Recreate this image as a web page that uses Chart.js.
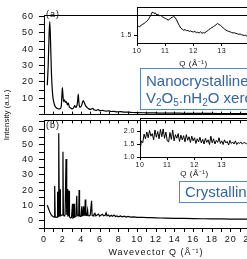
<!DOCTYPE html>
<html>
<head>
<meta charset="utf-8">
<script src="https://cdn.jsdelivr.net/npm/chart.js@4.4.1/dist/chart.umd.min.js"></script>
<style>
  html, body { margin: 0; padding: 0; background: #fff; }
  #wrap { position: relative; width: 247px; height: 259px; overflow: hidden; background: #fff; }
  canvas { position: absolute; }
  .lbl { position: absolute; font: 9px 'Liberation Sans', Arial, sans-serif; letter-spacing: 1px; color: #111; }
  #ytitle { position: absolute; left: 6px; top: 115px; transform: translate(-50%, -50%) rotate(-90deg);
            font: 8px 'Liberation Sans', Arial, sans-serif; white-space: nowrap; color: #111; }
  .box { position: absolute; border: 1px solid #5b86bf; color: #3165a8; box-sizing: border-box;
         font: 15px 'Liberation Sans', Arial, sans-serif; white-space: nowrap; padding-left: 5px; }
  .box sub { font-size: 10px; vertical-align: -3px; line-height: 0; }
</style>
</head>
<body>
<div id="wrap">
  <canvas id="mainA" width="290" height="125" style="left:0;top:0"></canvas>
  <canvas id="mainB" width="290" height="149" style="left:0;top:110px"></canvas>
  <canvas id="insetA" width="170" height="70" style="left:100px;top:0"></canvas>
  <canvas id="insetB" width="170" height="70" style="left:100px;top:110px"></canvas>
  <div class="lbl" style="left:46px;top:9px">(a)</div>
  <div class="lbl" style="left:46px;top:120px">(b)</div>
  <div id="ytitle">Intensity (a.u.)</div>
  <div class="box" style="left:140px;top:68px;width:140px;height:42px;line-height:17px;padding-top:3px">Nanocrystalline<br>V<sub>2</sub>O<sub>5</sub>.nH<sub>2</sub>O xerogel</div>
  <div class="box" style="left:179px;top:181px;width:90px;height:22px;line-height:20px">Crystalline</div>
</div>
<script>
// (a) nanocrystalline V2O5.nH2O xerogel, main curve
const qNano = [0.35, 0.45, 0.55, 0.62, 0.7, 0.8, 0.9, 1.0, 1.1, 1.2, 1.35, 1.5, 1.7, 1.85, 1.92, 1.97, 2.03, 2.1, 2.2, 2.3,
  2.4, 2.5, 2.6, 2.7, 2.85, 3.0, 3.15, 3.3, 3.4, 3.5, 3.6, 3.67, 3.73, 3.8, 3.9, 4.05, 4.2, 4.3, 4.45, 4.6,
  4.8, 5.0, 5.2, 5.4, 5.6, 5.8, 6.0, 6.3, 6.6, 6.9, 7.2, 7.5, 7.8, 8.2, 8.6, 9.0, 9.5, 10, 11, 12,
  13, 14, 15, 16, 18, 20, 22, 24];
const intNano = [18, 30, 50, 57, 45, 25, 14, 9, 6.5, 5, 4, 3.6, 3.5, 5, 12, 16.5, 12, 8, 9, 7.5,
  8, 6, 7, 5, 4, 3.5, 4, 5.5, 4.5, 5, 8, 12.5, 8, 5, 4.5, 6, 8.5, 7.5, 5.5, 4.5,
  3.5, 3.2, 3.8, 2.8, 2.6, 3, 2.4, 2.6, 2.1, 2.3, 1.9, 2.0, 1.7, 1.8, 1.5, 1.5, 1.3, 1.2, 1.1, 1.0,
  0.9, 0.9, 0.8, 0.8, 0.7, 0.6, 0.6, 0.5];

// (b) crystalline, main curve
const qCryst = [0.35, 0.5, 0.65, 0.8, 0.95, 1.08, 1.13, 1.16, 1.2, 1.3, 1.4, 1.44, 1.47, 1.5, 1.56, 1.6, 1.64, 1.68, 1.72, 1.76,
  1.85, 1.95, 2.03, 2.08, 2.15, 2.22, 2.26, 2.36, 2.41, 2.46, 2.5, 2.55, 2.63, 2.68, 2.73, 2.85, 2.95, 3.05, 3.1, 3.17,
  3.22, 3.27, 3.36, 3.42, 3.51, 3.56, 3.65, 3.72, 3.76, 3.81, 3.9, 3.96, 4.05, 4.1, 4.17, 4.24, 4.3, 4.36, 4.42, 4.48,
  4.58, 4.67, 4.72, 4.85, 4.95, 5.1, 5.15, 5.25, 5.35, 5.46, 5.55, 5.7, 5.85, 5.95, 6.1, 6.25, 6.4, 6.55, 6.65, 6.75,
  6.9, 7.05, 7.2, 7.35, 7.5, 7.65, 7.8, 8.0, 8.2, 8.4, 8.6, 8.8, 9.0, 9.3, 9.6, 10, 10.5, 11, 11.5, 12,
  12.5, 13, 14, 15, 16, 17, 18, 19, 20, 21, 22, 24];
const intCryst = [10, 7.5, 5, 3.5, 2.6, 2.2, 2.4, 22.7, 2.4, 2.0, 2.2, 3, 19, 2.6, 3, 57.5, 3.2, 3.5, 20.6, 3,
  3.2, 3.6, 45.3, 3.6, 3, 3.4, 4, 40.6, 3.8, 4, 20.7, 3, 3.2, 19.5, 2.4, 1.6, 2.0, 11, 1.6, 1.8,
  11, 2.2, 2.6, 3, 16.3, 3.4, 3, 3.6, 20, 3, 2.6, 3, 9.3, 3.2, 3.8, 9.3, 3.4, 3.6, 13.8, 3.4,
  3.2, 6.8, 3.2, 3, 3.4, 13, 3.4, 3, 4, 4.7, 3, 3.6, 4.2, 2.8, 3.4, 4, 3, 3.4, 5, 3,
  3.6, 2.6, 3.4, 2.8, 3.6, 2.6, 3, 2.4, 3, 2.4, 2.8, 2.2, 2.6, 2.2, 2.4, 2.0, 2.1, 1.9, 1.8, 1.7,
  1.6, 1.5, 1.4, 1.3, 1.2, 1.1, 1.0, 1.0, 0.9, 0.9, 0.8, 0.8];

// insets, Q from 10 to 14
const insetQ = [10.00, 10.05, 10.10, 10.15, 10.20, 10.25, 10.30, 10.35, 10.40, 10.45, 10.50, 10.55, 10.60, 10.65, 10.70,
  10.75, 10.80, 10.85, 10.90, 10.95, 11.00, 11.05, 11.10, 11.15, 11.20, 11.25, 11.30, 11.35, 11.40, 11.45, 11.50,
  11.55, 11.60, 11.65, 11.70, 11.75, 11.80, 11.85, 11.90, 11.95, 12.00, 12.05, 12.10, 12.15, 12.20, 12.25, 12.30,
  12.35, 12.40, 12.45, 12.50, 12.55, 12.60, 12.65, 12.70, 12.75, 12.80, 12.85, 12.90, 12.95, 13.00, 13.05, 13.10,
  13.15, 13.20, 13.25, 13.30, 13.35, 13.40, 13.45, 13.50, 13.55, 13.60, 13.65, 13.70, 13.75, 13.80, 13.85, 13.90,
  13.95, 14.00];
const insetNano = [1.562, 1.570, 1.566, 1.580, 1.585, 1.592, 1.600, 1.612, 1.622, 1.640, 1.662, 1.682, 1.670, 1.674, 1.658,
  1.662, 1.652, 1.655, 1.642, 1.638, 1.630, 1.626, 1.618, 1.624, 1.636, 1.640, 1.646, 1.638, 1.620, 1.596, 1.575,
  1.556, 1.548, 1.540, 1.544, 1.536, 1.538, 1.530, 1.534, 1.528, 1.526, 1.530, 1.520, 1.524, 1.518, 1.526, 1.516,
  1.520, 1.518, 1.528, 1.534, 1.546, 1.552, 1.560, 1.566, 1.574, 1.582, 1.592, 1.584, 1.578, 1.568, 1.558, 1.548,
  1.540, 1.534, 1.530, 1.526, 1.522, 1.518, 1.520, 1.514, 1.512, 1.508, 1.510, 1.504, 1.502, 1.498, 1.500, 1.492,
  1.494, 1.488];
const insetCryst = [1.22, 1.62, 1.55, 1.88, 1.70, 1.96, 1.74, 2.02, 1.80, 1.90, 1.66, 2.04, 1.76, 1.98, 1.70,
  2.06, 1.78, 2.08, 1.72, 1.96, 1.62, 1.58, 1.94, 1.68, 2.04, 1.62, 1.86, 1.72, 1.90, 1.60, 1.84,
  1.66, 1.82, 1.58, 1.86, 1.64, 1.78, 1.56, 1.80, 1.62, 1.74, 1.52, 1.70, 1.58, 1.76, 1.54, 1.68,
  1.50, 1.72, 1.56, 1.66, 1.48, 1.80, 1.54, 1.70, 1.50, 1.64, 1.56, 1.74, 1.52, 1.62, 1.48, 1.66,
  1.54, 1.60, 1.46, 1.64, 1.52, 1.58, 1.50, 1.62, 1.48, 1.56, 1.52, 1.58, 1.50, 1.54, 1.56, 1.50,
  1.54, 1.52];

// tick labels of the insets
const insetNanoTicks = [1.5];
const insetCrystTicks = [1.0, 1.5, 2.0];

Chart.defaults.font.family = "'Liberation Sans', Arial, sans-serif";
Chart.defaults.color = '#111';

// spaced-out lettering like the original figure
function tracking(px) {
  return { id: 'tracking', beforeDraw(c) { c.ctx.letterSpacing = px; } };
}

function points(xs, ys) {
  return xs.map((x, i) => ({ x: x, y: ys[i] }));
}

const noUi = { legend: { display: false }, tooltip: { enabled: false } };
const black = { color: '#000', width: 1 };

// top panel (a)
new Chart(document.getElementById('mainA'), {
  type: 'line',
  data: { datasets: [{ data: points(qNano, intNano), borderColor: '#000', borderWidth: 1.2, pointRadius: 0, cubicInterpolationMode: 'monotone' }] },
  options: {
    responsive: false, animation: false, events: [],
    layout: { padding: { top: 15, right: 22, left: 0, bottom: 0 } },
    plugins: noUi,
    scales: {
      x: { type: 'linear', min: 0, max: 24, afterFit: s => { s.height = 8; },
           ticks: { display: false, stepSize: 1, autoSkip: false },
           grid: { drawOnChartArea: false, tickLength: -3, color: '#000' }, border: black },
      xTop: { type: 'linear', position: 'top', min: 0, max: 24, afterFit: s => { s.height = 0; },
              ticks: { display: false }, grid: { display: false }, border: black },
      y: { min: 0, max: 61, afterFit: s => { s.width = 44; },
           ticks: { stepSize: 5, includeBounds: false, autoSkip: false, padding: 5, font: { size: 9 },
                    callback: v => (v > 0 && v % 10 === 0 ? v : '') },
           grid: { drawOnChartArea: false, tickLength: 5, color: '#000' }, border: black }
    }
  },
  plugins: [tracking('1px')]
});

// bottom panel (b)
new Chart(document.getElementById('mainB'), {
  type: 'line',
  data: { datasets: [{ data: points(qCryst, intCryst), borderColor: '#000', borderWidth: 1.2, pointRadius: 0, tension: 0 }] },
  options: {
    responsive: false, animation: false, events: [],
    layout: { padding: { top: 7, right: 22, left: 0, bottom: 0 } },
    plugins: noUi,
    scales: {
      x: { type: 'linear', min: 0, max: 24, afterFit: s => { s.height = 31; },
           ticks: { stepSize: 1, autoSkip: false, maxRotation: 0, includeBounds: false, padding: 2, font: { size: 9 },
                    callback: v => (v % 2 === 0 ? v : '') },
           grid: { drawOnChartArea: false, tickLength: 4, color: '#000' }, border: black,
           title: { display: true, text: 'Wavevector Q (Å⁻¹)', font: { size: 9 }, padding: { top: 0, bottom: 1 } } },
      xTop: { type: 'linear', position: 'top', min: 0, max: 24, afterFit: s => { s.height = 0; },
              ticks: { display: false, stepSize: 1, autoSkip: false },
              grid: { drawOnChartArea: false, tickLength: -3, color: '#000' }, border: black },
      y: { min: -5, max: 66, afterFit: s => { s.width = 44; },
           ticks: { stepSize: 5, includeBounds: false, autoSkip: false, padding: 5, font: { size: 9 },
                    callback: v => (v >= 0 && v % 10 === 0 ? v : '') },
           grid: { drawOnChartArea: false, tickLength: 5, color: '#000' }, border: black }
    }
  },
  plugins: [tracking('1px')]
});

function inset(id, ys, yMin, yMax, yTicks, pad, xHeight, yWidth) {
  return new Chart(document.getElementById(id), {
    type: 'line',
    data: { datasets: [{ data: points(insetQ, ys), borderColor: '#000', borderWidth: 1, pointRadius: 0, tension: 0 }] },
    options: {
      responsive: false, animation: false, events: [],
      layout: { padding: pad },
      plugins: noUi,
      scales: {
        x: { type: 'linear', min: 10, max: 14, afterFit: s => { s.height = xHeight; },
             ticks: { stepSize: 1, autoSkip: false, maxRotation: 0, padding: 1, font: { size: 7 },
                      callback: v => (v < 14 ? v : '') },
             grid: { drawOnChartArea: false, tickLength: 3, color: '#000' }, border: black,
             title: { display: true, text: 'Q (Å⁻¹)', font: { size: 8 }, padding: { top: 0, bottom: 1 } } },
        xTop: { type: 'linear', position: 'top', min: 10, max: 14, afterFit: s => { s.height = 0; },
                ticks: { display: false }, grid: { display: false }, border: black },
        y: { min: yMin, max: yMax, afterFit: s => { s.width = yWidth; },
             afterBuildTicks: s => { s.ticks = yTicks.map(v => ({ value: v })); },
             ticks: { padding: 2, font: { size: 7 }, callback: v => v.toFixed(1) },
             grid: { drawOnChartArea: false, tickLength: 3, color: '#000' }, border: black }
      }
    },
    plugins: [tracking('0.5px')]
  });
}

inset('insetA', insetNano, 1.44, 1.72, insetNanoTicks, { top: 7, right: 20, left: 0, bottom: 0 }, 27, 37);
inset('insetB', insetCryst, 1.0, 2.5, insetCrystTicks, { top: 8, right: 21, left: 0, bottom: 0 }, 23, 40);
</script>
</body>
</html>
